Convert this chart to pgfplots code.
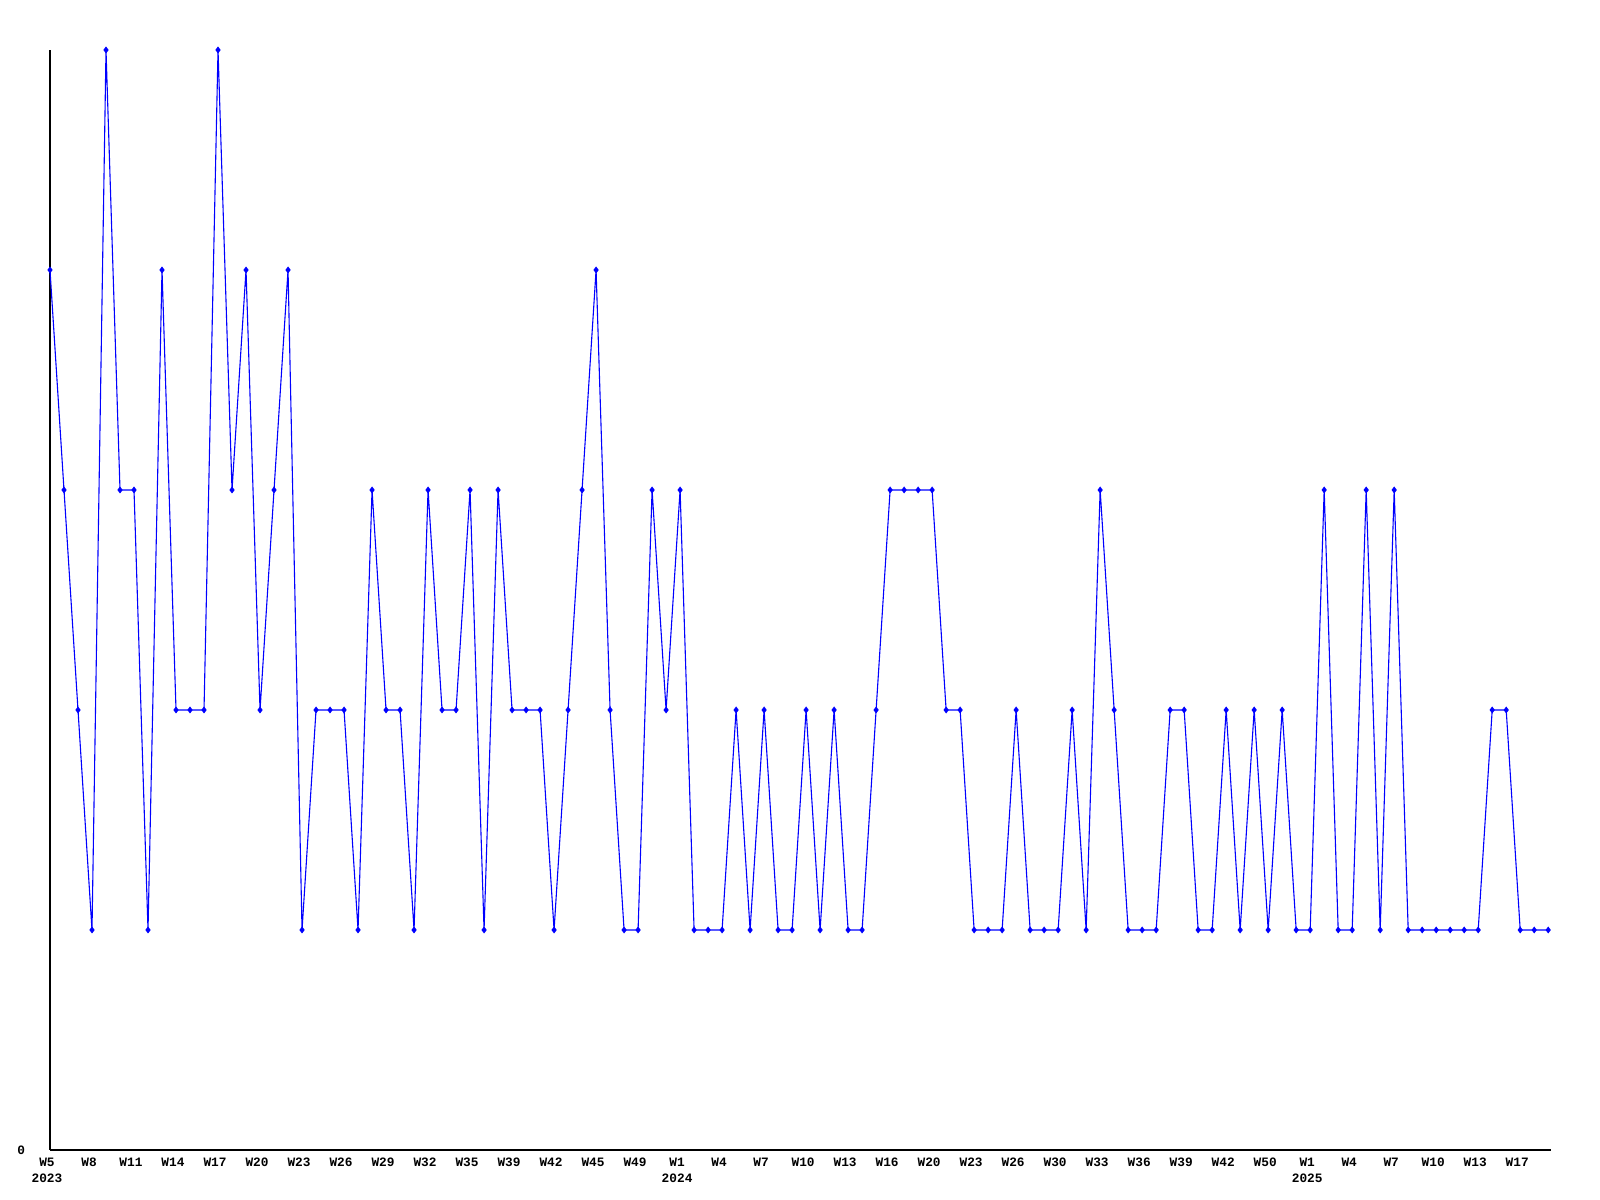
\documentclass[border=0pt]{standalone}
\usepackage{fontspec}
\setmainfont{Liberation Mono}
\usepackage{pgfplots}
\pgfplotsset{compat=1.18}
\begin{document}
\begin{tikzpicture}
\begin{axis}[
  name=ax,
  scale only axis,
  width=750.5pt, height=550pt,
  xmin=0, xmax=107.2, ymin=0, ymax=5,
  axis x line=bottom, axis y line=left,
  axis line style={black, line width=0.6pt, -},
  xtick={0,3,...,105},
  xticklabels={{W5\\2023},W8,W11,W14,W17,W20,W23,W26,W29,W32,W35,W39,W42,W45,W49,{W1\\2024},W4,W7,W10,W13,W16,W20,W23,W26,W30,W33,W36,W39,W42,W50,{W1\\2025},W4,W7,W10,W13,W17},
  ytick={0},
  major tick length=0pt,
  /pgf/number format/assume math mode=true,
  tick label style={font=\fontsize{6.4}{8}\selectfont\bfseries},
  xticklabel style={align=center, yshift=-0.5pt, xshift=-1.5pt},
  yticklabel style={xshift=-9pt},
  clip=false,
]
\addplot[color={rgb,255:red,0;green,0;blue,255}, line width=0.55pt, mark=diamond*, mark size=1.3pt, mark options={solid}]
coordinates {
(0,4)(1,3)(2,2)(3,1)(4,5)(5,3)(6,3)(7,1)(8,4)(9,2)
(10,2)(11,2)(12,5)(13,3)(14,4)(15,2)(16,3)(17,4)(18,1)(19,2)
(20,2)(21,2)(22,1)(23,3)(24,2)(25,2)(26,1)(27,3)(28,2)(29,2)
(30,3)(31,1)(32,3)(33,2)(34,2)(35,2)(36,1)(37,2)(38,3)(39,4)
(40,2)(41,1)(42,1)(43,3)(44,2)(45,3)(46,1)(47,1)(48,1)(49,2)
(50,1)(51,2)(52,1)(53,1)(54,2)(55,1)(56,2)(57,1)(58,1)(59,2)
(60,3)(61,3)(62,3)(63,3)(64,2)(65,2)(66,1)(67,1)(68,1)(69,2)
(70,1)(71,1)(72,1)(73,2)(74,1)(75,3)(76,2)(77,1)(78,1)(79,1)
(80,2)(81,2)(82,1)(83,1)(84,2)(85,1)(86,2)(87,1)(88,2)(89,1)
(90,1)(91,3)(92,1)(93,1)(94,3)(95,1)(96,3)(97,1)(98,1)(99,1)
(100,1)(101,1)(102,1)(103,2)(104,2)(105,1)(106,1)(107,1)
};
\end{axis}
\pgfresetboundingbox
\path[use as bounding box] ([shift={(-25pt,-25pt)}]ax.south west) rectangle ([shift={(24.5pt,25pt)}]ax.north east);
\end{tikzpicture}
\end{document}
